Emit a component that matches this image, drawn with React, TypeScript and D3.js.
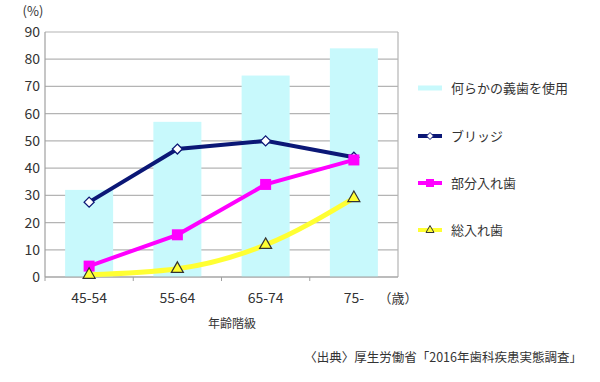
import React from "react";
import * as d3 from "d3";

const categories = ["45-54", "55-64", "65-74", "75-"];
const anyDenture = [32, 57, 74, 84];
const bridge = [27.5, 47, 50, 44];
const partial = [4, 15.5, 34, 43];
const complete = [0.8, 3, 11.8, 29];
const yTicks = [0, 10, 20, 30, 40, 50, 60, 70, 80, 90];
const seriesNames = ["何らかの義歯を使用", "ブリッジ", "部分入れ歯", "総入れ歯"];

const FONT = "'Noto Sans CJK JP', 'Noto Sans', sans-serif";

export default function App() {
  const W = 600, H = 382;
  const left = 45, right = 398, top = 32, bottom = 277;
  const x = d3.scaleBand<string>().domain(categories).range([left, right]);
  const y = d3.scaleLinear().domain([0, 90]).range([bottom, top]);
  const cx = (c: string) => (x(c) as number) + x.bandwidth() / 2;
  const barW = 48;

  const straight = d3.line<number>().x((_, i) => cx(categories[i])).y((v) => y(v));
  const smooth = d3
    .line<number>()
    .x((_, i) => cx(categories[i]))
    .y((v) => y(v))
    .curve(d3.curveMonotoneX);

  const navy = "#0b1776";
  const magenta = "#ff00ff";
  const yellow = "#ffff33";
  const cyan = "#c8f9fc";

  const legendX = 418;
  const legendY = [88, 136, 183, 230];

  const diamond = (px: number, py: number, s: number) =>
    `M${px},${py - s}L${px + s},${py}L${px},${py + s}L${px - s},${py}Z`;
  const tri = (px: number, py: number, s: number) =>
    `M${px},${py - s}L${px + s},${py + s * 0.75}L${px - s},${py + s * 0.75}Z`;

  return (
    <svg width={W} height={H} style={{ position: "absolute", left: 0, top: 0, background: "#fff" }} fontFamily={FONT}>
      <rect x={0} y={0} width={W} height={H} fill="#fff" />
      {/* grid */}
      {yTicks.map((t) => (
        <line key={t} x1={left} x2={right} y1={y(t)} y2={y(t)} stroke="#b4b4b4" strokeWidth={1.2} />
      ))}
      <line x1={right} x2={right} y1={top} y2={bottom} stroke="#b4b4b4" strokeWidth={1.2} />
      {/* bars */}
      {categories.map((c, i) => (
        <rect key={c} x={cx(c) - barW / 2} y={y(anyDenture[i])} width={barW} height={y(0) - y(anyDenture[i])} fill={cyan} />
      ))}
      {/* axes */}
      <line x1={left} x2={left} y1={top} y2={bottom} stroke="#a0a0a0" strokeWidth={1.2} />
      <line x1={left} x2={right} y1={bottom} y2={bottom} stroke="#a0a0a0" strokeWidth={1.2} />
      {categories.map((c) => (
        <line key={"tk" + c} x1={x(c) as number} x2={x(c) as number} y1={bottom} y2={bottom + 4} stroke="#a0a0a0" />
      ))}
      {yTicks.map((t) => (
        <text key={"yl" + t} x={40} y={y(t)} dy="0.36em" textAnchor="end" fontSize={14} fill="#333">
          {t}
        </text>
      ))}
      <text x={33} y={16} textAnchor="middle" fontSize={13} fill="#333">(%)</text>
      {categories.map((c) => (
        <text key={"xl" + c} x={cx(c)} y={303} textAnchor="middle" fontSize={14} fill="#333">
          {c}
        </text>
      ))}
      <text x={398} y={303} textAnchor="middle" fontSize={13} fill="#333">（歳）</text>
      <text x={232} y={328} textAnchor="middle" fontSize={12} fill="#333">年齢階級</text>
      {/* lines */}
      <path d={smooth(complete) as string} fill="none" stroke={yellow} strokeWidth={5} />
      <path d={straight(partial) as string} fill="none" stroke={magenta} strokeWidth={4} />
      <path d={straight(bridge) as string} fill="none" stroke={navy} strokeWidth={4} />
      {bridge.map((v, i) => (
        <path key={"b" + i} d={diamond(cx(categories[i]), y(v), 5)} fill="#fff" stroke={navy} strokeWidth={1.3} />
      ))}
      {partial.map((v, i) => (
        <rect key={"p" + i} x={cx(categories[i]) - 5.5} y={y(v) - 5.5} width={11} height={11} fill={magenta} />
      ))}
      {complete.map((v, i) => (
        <path key={"c" + i} d={tri(cx(categories[i]), y(v) - 1, 6)} fill={yellow} stroke="#333" strokeWidth={1.2} />
      ))}
      {/* legend */}
      <rect x={legendX} y={legendY[0] - 2.5} width={24} height={5} fill={cyan} />
      <line x1={legendX} x2={legendX + 24} y1={legendY[1]} y2={legendY[1]} stroke={navy} strokeWidth={4} />
      <path d={diamond(legendX + 12, legendY[1], 3.5)} fill="#fff" stroke={navy} strokeWidth={1} />
      <line x1={legendX} x2={legendX + 24} y1={legendY[2]} y2={legendY[2]} stroke={magenta} strokeWidth={4} />
      <rect x={legendX + 8} y={legendY[2] - 4} width={8} height={8} fill={magenta} />
      <line x1={legendX} x2={legendX + 24} y1={legendY[3]} y2={legendY[3]} stroke={yellow} strokeWidth={4} />
      <path d={tri(legendX + 12, legendY[3] - 0.5, 4)} fill={yellow} stroke="#333" strokeWidth={1} />
      {seriesNames.map((n, i) => (
        <text key={n} x={451} y={legendY[i]} dy="0.36em" fontSize={13} fill="#333">
          {n}
        </text>
      ))}
      <text x={582} y={362} textAnchor="end" fontSize={12.5} fill="#333">〈出典〉厚生労働省「2016年歯科疾患実態調査」</text>
    </svg>
  );
}
